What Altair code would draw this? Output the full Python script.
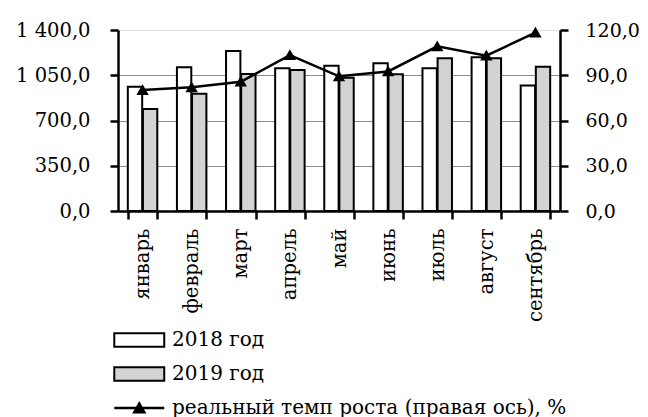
import altair as alt
import pandas as pd

months = ["январь", "февраль", "март", "апрель", "май", "июнь", "июль", "август", "сентябрь"]
years = ["2018 год", "2019 год"]
v2018 = [961, 1111, 1238, 1104, 1123, 1142, 1104, 1189, 970]
v2019 = [789, 907, 1060, 1090, 1031, 1058, 1181, 1181, 1116]
growth = [80.2, 82.0, 85.7, 103.4, 89.3, 92.5, 109.2, 103.0, 118.3]
line_label = "реальный темп роста (правая ось), %"
left_ticks = [0, 350, 700, 1050, 1400]
right_ticks = [0, 30, 60, 90, 120]

FONT = "DejaVu Serif"
FS = 19.5
LFS = 20

rows = []
for m, a, b in zip(months, v2018, v2019):
    rows.append({"month": m, "year": years[0], "value": a})
    rows.append({"month": m, "year": years[1], "value": b})
df_bars = pd.DataFrame(rows)
df_line = pd.DataFrame({"month": months, "growth": growth, "label": [line_label] * len(months)})

x_axis = alt.Axis(
    title=None, labelAngle=-90, tickBand="extent", ticks=True, tickSize=8, tickWidth=2.5,
    tickColor="black", domainColor="black", domainWidth=2.5, labelPadding=9,
    labelFont=FONT, labelFontSize=FS, labelColor="black", grid=False,
)
x_enc = alt.X("month:N", sort=months,
              scale=alt.Scale(paddingInner=0.4, paddingOuter=0.2), axis=x_axis)

bars = alt.Chart(df_bars).mark_bar(stroke="black", strokeWidth=2).encode(
    x=x_enc,
    xOffset=alt.XOffset("year:N", sort=years, scale=alt.Scale(paddingInner=0.05)),
    y=alt.Y("value:Q", scale=alt.Scale(domain=[0, 1400], nice=False),
            axis=alt.Axis(
                title=None, values=left_ticks,
                labelExpr="replace(replace(format(datum.value, ',.1f'), ',', ' '), '.', ',')",
                grid=True, gridColor="#8a8a8a", gridWidth=1,
                gridOpacity={"condition": {"test": "datum.value == 0 || datum.value == 1400", "value": 0}, "value": 1},
                domainColor="black", domainWidth=2.5, ticks=True, tickColor="black", tickWidth=2.5,
                tickSize=8, labelPadding=20, labelFont=FONT, labelFontSize=FS,
                labelColor="black")),
    fill=alt.Fill("year:N", sort=years,
                  scale=alt.Scale(domain=years, range=["white", "#d3d3d3"]),
                  legend=alt.Legend(
                      title=None, orient="none", legendX=30, legendY=300,
                      symbolType="M-7,-1.1H1V1.1H-7Z", symbolSize=156,
                      symbolStrokeColor="black", symbolStrokeWidth=2,
                      labelFont=FONT, labelFontSize=LFS, labelColor="black",
                      rowPadding=12, labelOffset=4)),
)

line = alt.Chart(df_line).mark_line(
    strokeWidth=2.5,
    point=alt.OverlayMarkDef(shape="triangle-up", filled=True, fill="black", size=80),
).encode(
    x=alt.X("month:N", sort=months),
    y=alt.Y("growth:Q", scale=alt.Scale(domain=[0, 120], nice=False),
            axis=alt.Axis(
                title=None, orient="right", values=right_ticks,
                labelExpr="replace(format(datum.value, '.1f'), '.', ',')",
                grid=False, domainColor="black", domainWidth=2.5, ticks=True, tickColor="black",
                tickWidth=2.5, tickSize=8, labelPadding=17, labelFont=FONT,
                labelFontSize=19, labelColor="black")),
    stroke=alt.Stroke("label:N", scale=alt.Scale(range=["black"]),
                      legend=alt.Legend(
                          title=None, orient="none", legendX=30, legendY=368,
                          symbolType="M-7,0H1M-3.8,0.7L-3,-0.7L-2.2,0.7Z", symbolSize=156,
                          symbolStrokeColor="black", symbolFillColor="black",
                          symbolStrokeWidth=2.5,
                          labelFont=FONT, labelFontSize=LFS, labelColor="black",
                          labelOffset=4, labelLimit=500)),
)

chart = alt.layer(bars, line).resolve_scale(y="independent", fill="independent", stroke="independent").properties(
    width=442, height=181,
    autosize=alt.AutoSizeParams(type="none"),
    padding={"left": 110, "top": 22, "right": 80, "bottom": 210},
).configure_view(stroke=None).configure(background="white")

chart.save("out.html", embed_options={"renderer": "svg", "actions": False})
